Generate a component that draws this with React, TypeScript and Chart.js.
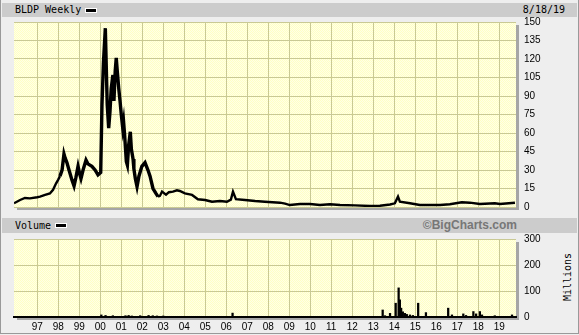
import React, { useEffect, useRef } from "react";
import { Chart, registerables } from "chart.js";

Chart.register(...registerables);

// ---- Data ----
const priceYears = [
  1995.89, 1996.18, 1996.41, 1996.65, 1996.99, 1997.13, 1997.37, 1997.6, 1997.75, 1997.89,
  1997.99, 1998.08, 1998.18, 1998.27, 1998.32, 1998.41, 1998.51, 1998.65, 1998.75, 1998.84,
  1998.94, 1999.03, 1999.08, 1999.18, 1999.32, 1999.41, 1999.6, 1999.75, 1999.89, 2000.02,
  2000.08, 2000.15, 2000.24, 2000.29, 2000.33, 2000.4, 2000.46, 2000.52, 2000.6, 2000.65,
  2000.71, 2000.76, 2000.81, 2000.88, 2000.94, 2001.0, 2001.07, 2001.11, 2001.16, 2001.24,
  2001.29, 2001.35, 2001.43, 2001.48, 2001.56, 2001.6, 2001.67, 2001.75, 2001.84, 2001.98,
  2002.13, 2002.27, 2002.37, 2002.51, 2002.65, 2002.75, 2002.84, 2002.94, 2003.13, 2003.27,
  2003.46, 2003.65, 2003.79, 2004.03, 2004.37, 2004.65, 2004.99, 2005.32, 2005.7, 2006.03,
  2006.22, 2006.32, 2006.46, 2006.89, 2007.37, 2007.84, 2008.56, 2008.8, 2009.03, 2009.51,
  2009.99, 2010.46, 2010.94, 2011.42, 2012.13, 2012.85, 2013.32, 2013.8, 2014.03, 2014.18,
  2014.27, 2014.75, 2015.22, 2016.18, 2016.65, 2017.22, 2017.6, 2018.08, 2018.79, 2019.03,
  2019.75,
];
const priceValues = [
  3, 5.7, 7.3, 7, 7.9, 8.4, 9.8, 11, 14, 19,
  22, 25, 30, 43, 40, 36, 30, 22, 17, 24,
  33, 26, 23, 30, 38, 35, 33, 30, 26, 28,
  83, 117, 145, 110, 83, 64, 77, 96, 107, 86,
  110, 121, 110, 96, 86, 75, 64, 69, 58, 37,
  34, 50, 61, 47, 39, 31, 23, 16.5, 25, 33,
  36, 30, 25, 15, 11, 8.4, 9, 12.5, 10, 12,
  12.5, 13.5, 13, 11, 9.8, 6.3, 5.7, 4.3, 4.9, 4.3,
  6, 12.5, 6.3, 5.7, 4.9, 4.3, 3.5, 2.8, 1.6, 2.4,
  2.4, 1.6, 2.2, 1.6, 1.3, 0.8, 1.0, 2, 3, 8.4,
  4.3, 3, 1.6, 1.6, 2.2, 3.8, 3.5, 2.4, 3, 2.4,
  3.5,
];

const volumeYears = [
  2000.05, 2000.25, 2000.6, 2001.2, 2001.35, 2001.5, 2001.9, 2002.3, 2002.5, 2002.7,
  2003.0, 2006.3, 2013.45, 2013.56, 2013.8, 2014.07, 2014.21, 2014.27, 2014.33, 2014.41,
  2014.51, 2014.6, 2014.75, 2014.89, 2015.14, 2015.51, 2016.57, 2016.75, 2017.29, 2017.42,
  2017.77, 2017.9, 2018.08, 2018.18, 2018.79, 2019.61,
];
const volumeValues = [
  8, 6, 5, 5, 6, 4, 5, 6, 5, 4,
  4, 15, 27, 5, 14, 53, 112, 66, 34, 20,
  14, 10, 8, 6, 53, 17, 34, 8, 12, 6,
  21, 12, 21, 8, 5, 8,
];

const yearTicks = [
  1997, 1998, 1999, 2000, 2001, 2002, 2003, 2004, 2005, 2006, 2007, 2008,
  2009, 2010, 2011, 2012, 2013, 2014, 2015, 2016, 2017, 2018, 2019,
];
const yearLabels = [
  "97", "98", "99", "00", "01", "02", "03", "04", "05", "06", "07", "08",
  "09", "10", "11", "12", "13", "14", "15", "16", "17", "18", "19",
];
const priceTicks = [0, 15, 30, 45, 60, 75, 90, 105, 120, 135, 150];
const volumeTicks = [0, 100, 200, 300];

const X_MIN = 1995.89;
const X_MAX = 2019.8;

const W = 579;
const H = 335;
const GRID = "#c9c994";
const LABEL_FONT = { family: "'Liberation Sans', Arial, sans-serif", size: 10 };
const MONO = "'DejaVu Sans Mono', 'Liberation Mono', monospace";

function makePattern(ctx: CanvasRenderingContext2D) {
  const c = document.createElement("canvas");
  c.width = 2;
  c.height = 2;
  const p = c.getContext("2d")!;
  p.fillStyle = "#ffffc4";
  p.fillRect(0, 0, 2, 2);
  p.fillStyle = "#ffffe6";
  p.fillRect(1, 0, 1, 1);
  p.fillRect(0, 1, 1, 1);
  return ctx.createPattern(c, "repeat");
}

const plotBg = {
  id: "plotBg",
  beforeDraw(chart: any) {
    const { ctx, chartArea } = chart;
    const { left, top, right, bottom } = chartArea;
    ctx.save();
    ctx.fillStyle = "#a6a6a6";
    ctx.fillRect(right, top + 3, 3, bottom - top);
    ctx.fillRect(left + 3, bottom, right - left, 3);
    ctx.fillStyle = makePattern(ctx) || "#ffffd4";
    ctx.fillRect(left, top, right - left, bottom - top);
    ctx.restore();
  },
};

function yearTickBuilder(scale: any) {
  scale.ticks = yearTicks.map((v) => ({ value: v }));
}

export default function App() {
  const priceRef = useRef<HTMLCanvasElement>(null);
  const volRef = useRef<HTMLCanvasElement>(null);

  useEffect(() => {
    const price = new Chart(priceRef.current!, {
      type: "line",
      data: {
        datasets: [
          {
            data: priceYears.map((x, i) => ({ x, y: priceValues[i] })),
            borderColor: "#000",
            borderWidth: 2.4,
            segment: {
              borderWidth: (c: any) =>
                c.p0.parsed.x >= 1998 && c.p1.parsed.x <= 2002.8 ? 3.4 : 2.4,
            },
            borderJoinStyle: "miter",
            pointRadius: 0,
            tension: 0,
            fill: false,
          },
        ],
      },
      options: {
        animation: false,
        responsive: false,
        events: [],
        layout: { padding: { left: 14, top: 22, right: 0, bottom: 128 } },
        plugins: { legend: { display: false }, tooltip: { enabled: false } },
        scales: {
          x: {
            type: "linear",
            min: X_MIN,
            max: X_MAX,
            offset: false,
            afterBuildTicks: yearTickBuilder,
            afterFit: (s: any) => {
              s.height = 0;
            },
            grid: { color: GRID, drawTicks: false, offset: false },
            border: { display: false },
            ticks: { display: false },
          },
          y: {
            position: "right",
            min: 0,
            max: 150,
            afterBuildTicks: (s: any) => {
              s.ticks = priceTicks.map((v) => ({ value: v }));
            },
            afterFit: (s: any) => {
              s.width = W - 516;
            },
            grid: { color: GRID, drawTicks: false },
            border: { display: false },
            ticks: { color: "#000", font: LABEL_FONT, padding: 8 },
          },
        },
      },
      plugins: [plotBg],
    } as any);

    const vol = new Chart(volRef.current!, {
      type: "bar",
      data: {
        datasets: [
          {
            data: volumeYears.map((x, i) => ({ x, y: volumeValues[i] })),
            backgroundColor: "#000",
            barThickness: 1.6,
            borderWidth: 0,
          },
        ],
      },
      options: {
        animation: false,
        responsive: false,
        events: [],
        layout: { padding: { left: 14, top: 239, right: 0, bottom: 0 } },
        plugins: { legend: { display: false }, tooltip: { enabled: false } },
        scales: {
          x: {
            type: "linear",
            min: X_MIN,
            max: X_MAX,
            offset: false,
            afterBuildTicks: yearTickBuilder,
            afterFit: (s: any) => {
              s.height = H - 317;
            },
            grid: { color: GRID, drawTicks: false, offset: false },
            border: { display: true, color: "#000", width: 2 },
            ticks: {
              color: "#000",
              font: LABEL_FONT,
              padding: 4,
              maxRotation: 0,
              autoSkip: false,
              callback: (v: any) => {
                const i = yearTicks.indexOf(Number(v));
                return i >= 0 ? yearLabels[i] : "";
              },
            },
          },
          y: {
            position: "right",
            min: 0,
            max: 300,
            afterBuildTicks: (s: any) => {
              s.ticks = volumeTicks.map((v) => ({ value: v }));
            },
            afterFit: (s: any) => {
              s.width = W - 516;
            },
            grid: { color: GRID, drawTicks: false },
            border: { display: false },
            ticks: { color: "#000", font: LABEL_FONT, padding: 8 },
          },
        },
      },
      plugins: [plotBg],
    } as any);

    return () => {
      price.destroy();
      vol.destroy();
    };
  }, []);

  const band: React.CSSProperties = {
    position: "absolute",
    left: 2,
    width: 575,
    background: "#cccccc",
  };
  const txt: React.CSSProperties = {
    position: "absolute",
    fontFamily: MONO,
    fontSize: 10,
    color: "#000",
    lineHeight: "14px",
    whiteSpace: "nowrap",
  };
  const swatch: React.CSSProperties = {
    position: "absolute",
    width: 10,
    height: 3,
    background: "#000",
    border: "1px solid #fff",
  };

  return (
    <div
      style={{
        position: "fixed",
        left: 0,
        top: 0,
        width: W,
        height: H,
        background: "#eeeeee",
        overflow: "hidden",
      }}
    >
      <div style={{ position: "absolute", left: 0, top: 0, width: 1, height: 334, background: "#999" }} />
      <div style={{ position: "absolute", left: 578, top: 0, width: 1, height: 334, background: "#999" }} />
      <div style={{ position: "absolute", left: 0, top: 333, width: 579, height: 1, background: "#999" }} />

      <div style={{ ...band, top: 3, height: 14 }} />
      <div style={{ ...txt, left: 15, top: 3 }}>BLDP Weekly</div>
      <div style={{ ...swatch, left: 85, top: 8 }} />
      <div style={{ ...txt, right: 14, top: 3 }}>8/18/19</div>

      <div style={{ ...band, top: 218, height: 15 }} />
      <div style={{ ...txt, left: 15, top: 218.5 }}>Volume</div>
      <div style={{ ...swatch, left: 55, top: 223 }} />
      <div
        style={{
          position: "absolute",
          right: W - 517,
          top: 218,
          lineHeight: "15px",
          fontFamily: "'Liberation Sans', Arial, sans-serif",
          fontWeight: "bold",
          fontSize: 12,
          color: "#777",
          whiteSpace: "nowrap",
        }}
      >
        ©BigCharts.com
      </div>

      <div
        style={{
          position: "absolute",
          left: 567,
          top: 277,
          transform: "translate(-50%, -50%) rotate(-90deg)",
          fontFamily: MONO,
          fontSize: 10,
          color: "#000",
          whiteSpace: "nowrap",
        }}
      >
        Millions
      </div>

      <canvas ref={priceRef} width={W} height={H} style={{ position: "absolute", left: 0, top: 0 }} />
      <canvas ref={volRef} width={W} height={H} style={{ position: "absolute", left: 0, top: 0 }} />
    </div>
  );
}
